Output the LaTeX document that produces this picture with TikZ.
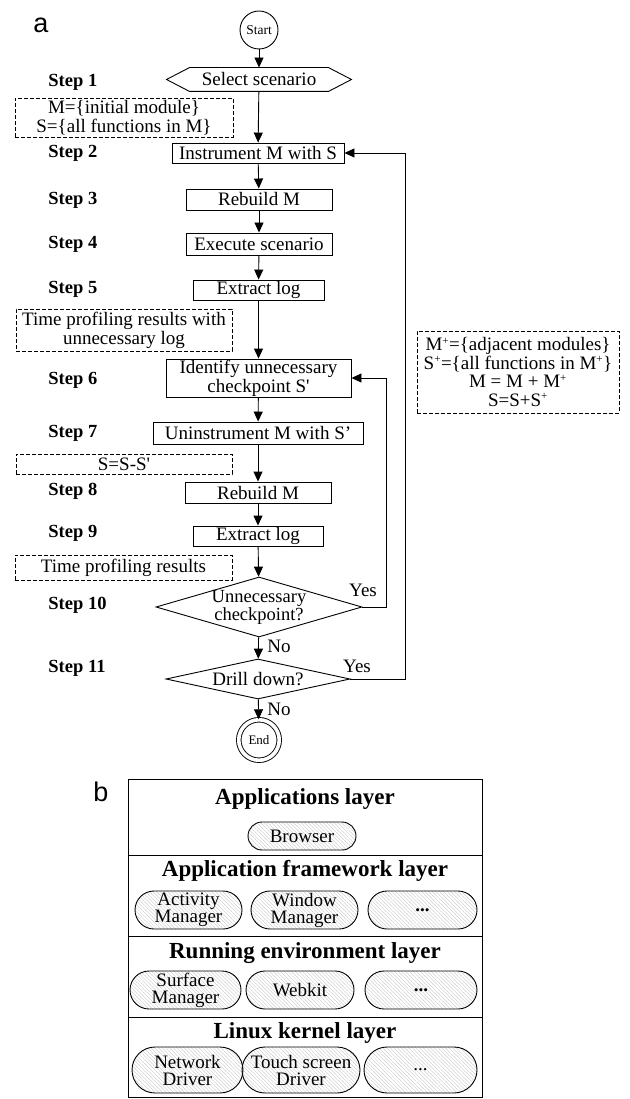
\documentclass[tikz,border=0pt]{standalone}
\usepackage{fontspec}
\setmainfont{Liberation Serif}
\newfontfamily\panelfont{Liberation Sans}
\usepackage{tikz}
\usetikzlibrary{arrows.meta,shapes.geometric,shapes.misc,patterns.meta}
\newcommand\txt{\fontsize{19}{19}\selectfont}
\newcommand\txtsm{\fontsize{13.5}{14}\selectfont}
\newcommand\txtdia{\fontsize{18.5}{14}\selectfont}
\newcommand\txtpill{\fontsize{19}{17}\selectfont}
\newcommand\stp{\fontsize{18.5}{19}\selectfont\bfseries}
\newcommand\lay{\fontsize{23}{24}\selectfont\bfseries}
\newcommand\pnl{\panelfont\fontsize{27}{27}\selectfont}
\newcommand\Sp{S\textquotesingle}
\newcommand\up{\textsuperscript{\fontsize{11}{11}\selectfont+}}
\definecolor{hatch_gray}{RGB}{195,195,195}

\begin{document}
\begin{tikzpicture}[x=1pt,y=-1pt,line width=0.9pt,>={Triangle[length=10pt,width=9pt]}]
    \tikzstyle{box}=[draw, rectangle, inner sep=0pt, font=\txt, align=center]
    \tikzstyle{note}=[draw, dashed, dash pattern=on 4pt off 2pt, rectangle, inner sep=0pt, font=\txt, align=center]
    \tikzstyle{dia}=[draw, diamond, inner sep=0pt]
    \tikzstyle{steplbl}=[anchor=west, inner sep=0pt, font=\stp]
    \tikzstyle{lbl}=[inner sep=0pt, font=\txt]
    \tikzstyle{layer}=[draw, rectangle, inner sep=0pt, minimum width=354pt]
    \tikzstyle{pill}=[draw, rounded rectangle, inner sep=0pt, font=\txtpill, align=center,
                      pattern={Lines[angle=-45,distance=2.6pt,line width=0.35pt]}, pattern color=hatch_gray]
    \useasboundingbox (0,0) rectangle (629,1099);

    \node[font=\pnl] (pa) at (41,25.5) {a};
    \node[font=\pnl] (pb) at (101,791.5) {b};

    % flow chart
    \node[draw, circle, minimum size=38pt, inner sep=0pt, font=\txtsm] (start) at (259,30) {Start};
    \node[inner sep=0pt, minimum width=138pt, minimum height=23pt, font=\txt] (sel) at (259,79.5) {Select scenario};
    \draw (sel.north west) -- (sel.north east) -- ([xshift=23pt]sel.east) -- (sel.south east)
          -- (sel.south west) -- ([xshift=-23pt]sel.west) -- cycle;
    \node[box, minimum width=172pt, minimum height=20pt] (instr) at (258,153)   {Instrument M with S};
    \node[box, minimum width=146pt, minimum height=21pt] (reb1)  at (259,199.5) {Rebuild M};
    \node[box, minimum width=146pt, minimum height=22pt] (exe)   at (259,244)   {Execute scenario};
    \node[box, minimum width=131pt, minimum height=20pt] (ext1)  at (258.5,290) {Extract log};
    \node[box, minimum width=185pt, minimum height=38pt] (iden)  at (258.5,378) {Identify unnecessary\\checkpoint \Sp};
    \node[box, minimum width=210pt, minimum height=22pt] (unin)  at (258,433)   {Uninstrument M with S’};
    \node[box, minimum width=146pt, minimum height=21pt] (reb2)  at (258,492.5) {Rebuild M};
    \node[box, minimum width=130pt, minimum height=20pt] (ext2)  at (258,536)   {Extract log};
    \node[dia, minimum width=206pt, minimum height=60pt, label={[font=\txtdia, align=center]center:Unnecessary\\checkpoint?}] (chk) at (259,607) {};
    \node[dia, minimum width=184pt, minimum height=40pt, label={[font=\txt]center:Drill down?}] (drill) at (258,679) {};
    \node[draw, circle, double, double distance=3.6pt, minimum size=40.5pt, inner sep=0pt, font=\fontsize{13}{13}\selectfont] (endn) at (259,740) {End};

    \node[note, minimum width=218pt, minimum height=39pt] (n1) at (124,117.5) {M=\{initial module\}\\S=\{all functions in M\}};
    \node[note, minimum width=216pt, minimum height=42pt] (n2) at (124,330)   {Time profiling results with\\unnecessary log};
    \node[note, minimum width=216pt, minimum height=20pt] (n3) at (124,464)   {S=S-\Sp};
    \node[note, minimum width=217pt, minimum height=25pt] (n4) at (123.5,567.5) {Time profiling results};
    \node[note, minimum width=202pt, minimum height=82pt, font=\fontsize{19}{18.5}\selectfont] (n5) at (518,372)
        {M\up=\{adjacent modules\}\\S\up=\{all functions in M\up\}\\M = M + M\up\\S=S+S\up};

    \node[steplbl] (st1)  at (48,82)  {Step 1};
    \node[steplbl] (st2)  at (48,153) {Step 2};
    \node[steplbl] (st3)  at (48,200) {Step 3};
    \node[steplbl] (st4)  at (48,244) {Step 4};
    \node[steplbl] (st5)  at (48,289) {Step 5};
    \node[steplbl] (st6)  at (48,380) {Step 6};
    \node[steplbl] (st7)  at (48,433) {Step 7};
    \node[steplbl] (st8)  at (48,491) {Step 8};
    \node[steplbl] (st9)  at (48,533) {Step 9};
    \node[steplbl] (st10) at (48,605) {Step 10};
    \node[steplbl] (st11) at (48,668) {Step 11};

    \node[lbl] (yes1) at (363,590) {Yes};
    \node[lbl] (yes2) at (357,666) {Yes};
    \node[lbl] (no1)  at (279,646) {No};
    \node[lbl] (no2)  at (279,709) {No};

    \path[->]
     (start) edge (sel)
     (sel)   edge (instr)
     (instr) edge (reb1)
     (reb1)  edge (exe)
     (exe)   edge (ext1)
     (ext1)  edge (iden)
     (iden)  edge (unin)
     (unin)  edge (reb2)
     (reb2)  edge (ext2)
     (ext2)  edge (chk)
     (chk)   edge (drill)
     (drill) edge (endn)
     ;
    \draw[->] (chk.east) -- ++(24,0) |- (iden.east);
    \draw[->] (drill.east) -- ++(55,0) |- (instr.east);

    % layers
    \node[layer, minimum height=76pt] (lay1) at (305,817)    {};
    \node[layer, minimum height=81pt] (lay2) at (305,895.5)  {};
    \node[layer, minimum height=81pt] (lay3) at (305,976.5)  {};
    \node[layer, minimum height=80pt] (lay4) at (305,1057)   {};
    \node[font=\lay] (t1) at (305,799)  {Applications layer};
    \node[font=\lay] (t2) at (305,871)  {Application framework layer};
    \node[font=\lay] (t3) at (305,953)  {Running environment layer};
    \node[font=\lay] (t4) at (305,1033) {Linux kernel layer};

    \node[pill, minimum width=108pt, minimum height=28pt] (brw) at (302,836) {Browser};
    \node[pill, minimum width=107pt, minimum height=38pt] (act) at (188.5,910) {Activity\\Manager};
    \node[pill, minimum width=107pt, minimum height=38pt] (win) at (304.5,910) {Window\\Manager};
    \node[pill, minimum width=109pt, minimum height=38pt] (fw3) at (422.5,910) {\textbf{...}};
    \node[pill, minimum width=111pt, minimum height=38pt] (srf) at (185.5,990) {Surface\\Manager};
    \node[pill, minimum width=108pt, minimum height=38pt] (wbk) at (300,990)   {Webkit};
    \node[pill, minimum width=112pt, minimum height=38pt] (re3) at (421,990)   {\textbf{...}};
    \node[pill, minimum width=111pt, minimum height=46pt] (net) at (187.5,1070) {Network\\Driver};
    \node[pill, minimum width=118pt, minimum height=46pt] (tch) at (301,1070)  {Touch screen\\Driver};
    \node[pill, minimum width=113pt, minimum height=46pt] (lk3) at (420.5,1070) {...};
  \end{tikzpicture}
\end{document}
